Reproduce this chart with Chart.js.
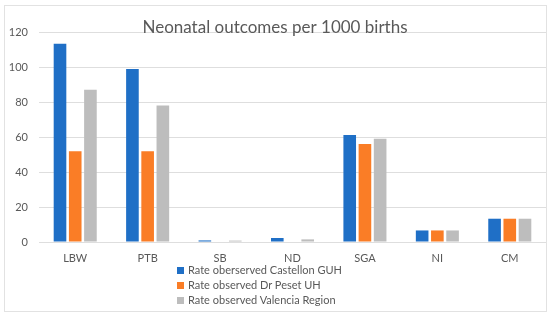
<!DOCTYPE html>
<html>
<head>
<meta charset="utf-8">
<script src="https://cdn.jsdelivr.net/npm/chart.js@4/dist/chart.umd.min.js"></script>
<style>
  html, body { margin:0; padding:0; background:#fff; }
  #wrap { position:relative; width:550px; height:320px; overflow:hidden; font-family: Lato, "Open Sans", sans-serif; }
  #frame { position:absolute; left:4px; top:5px; width:543px; height:307px; border:1px solid #e2e2e2; box-sizing:border-box; }
  #cv { position:absolute; left:0; top:0; }
  #legend { position:absolute; left:177px; top:262px; font-size:11px; color:#595959; }
  .item { height:15px; line-height:15px; white-space:nowrap; }
  .sw { display:inline-block; width:7px; height:7px; margin-right:4px; vertical-align:0px; }
</style>
</head>
<body>
<div id="wrap">
  <div id="frame"></div>
  <canvas id="cv" width="550" height="270"></canvas>
  <div id="legend"></div>
</div>
<script>
const chartTitle = "Neonatal outcomes per 1000 births";
const categories = ["LBW", "PTB", "SB", "ND", "SGA", "NI", "CM"];
const seriesNames = ["Rate oberserved Castellon GUH", "Rate observed Dr Peset UH", "Rate observed Valencia Region"];
const castellonValues = [113.3, 98.9, 0.9, 2.3, 61.1, 6.6, 13.3];
const pesetValues = [51.8, 51.8, 0, 0, 56.0, 6.6, 13.3];
const valenciaValues = [87.0, 78.0, 0.8, 1.5, 59.0, 6.6, 13.3];
const yTicks = [0, 20, 40, 60, 80, 100, 120];
const colors = ["#1f6fc6", "#fa7d26", "#bdbdbd"];

const textColor = "#595959";
const fontFamily = "Lato, 'Open Sans', sans-serif";

const titlePlugin = {
  id: "overTitle",
  afterDraw(chart) {
    const ctx = chart.ctx;
    ctx.save();
    ctx.font = "17px " + fontFamily;
    ctx.fillStyle = textColor;
    ctx.textAlign = "center";
    ctx.textBaseline = "middle";
    ctx.fillText(chartTitle, chart.width / 2, 28);
    ctx.restore();
  }
};

const chart = new Chart(document.getElementById("cv"), {
  type: "bar",
  data: {
    labels: categories,
    datasets: [
      { label: seriesNames[0], data: castellonValues, backgroundColor: colors[0] },
      { label: seriesNames[1], data: pesetValues, backgroundColor: colors[1] },
      { label: seriesNames[2], data: valenciaValues, backgroundColor: colors[2] }
    ]
  },
  options: {
    responsive: false,
    animation: false,
    devicePixelRatio: 1,
    layout: { padding: { top: 32, right: 4, left: 0, bottom: 0 } },
    datasets: { bar: { categoryPercentage: 0.63, barPercentage: 0.83 } },
    plugins: {
      legend: { display: false },
      title: { display: false },
      tooltip: { enabled: false }
    },
    scales: {
      x: {
        grid: { display: false, drawTicks: false },
        border: { display: false },
        ticks: { color: textColor, font: { family: fontFamily, size: 11 }, padding: 10 },
        afterFit(s) { s.height = 28; }
      },
      y: {
        min: 0, max: 120,
        afterBuildTicks(s) { s.ticks = yTicks.map(v => ({ value: v })); },
        grid: { color: "#dedede", drawTicks: false },
        border: { display: false },
        ticks: { color: textColor, font: { family: fontFamily, size: 11 }, padding: 11 },
        afterFit(s) { s.width = 39; }
      }
    }
  },
  plugins: [titlePlugin]
});

const legendEl = document.getElementById("legend");
chart.data.datasets.forEach(ds => {
  const row = document.createElement("div");
  row.className = "item";
  const sw = document.createElement("span");
  sw.className = "sw";
  sw.style.background = ds.backgroundColor;
  row.appendChild(sw);
  row.appendChild(document.createTextNode(ds.label));
  legendEl.appendChild(row);
});
</script>
</body>
</html>
